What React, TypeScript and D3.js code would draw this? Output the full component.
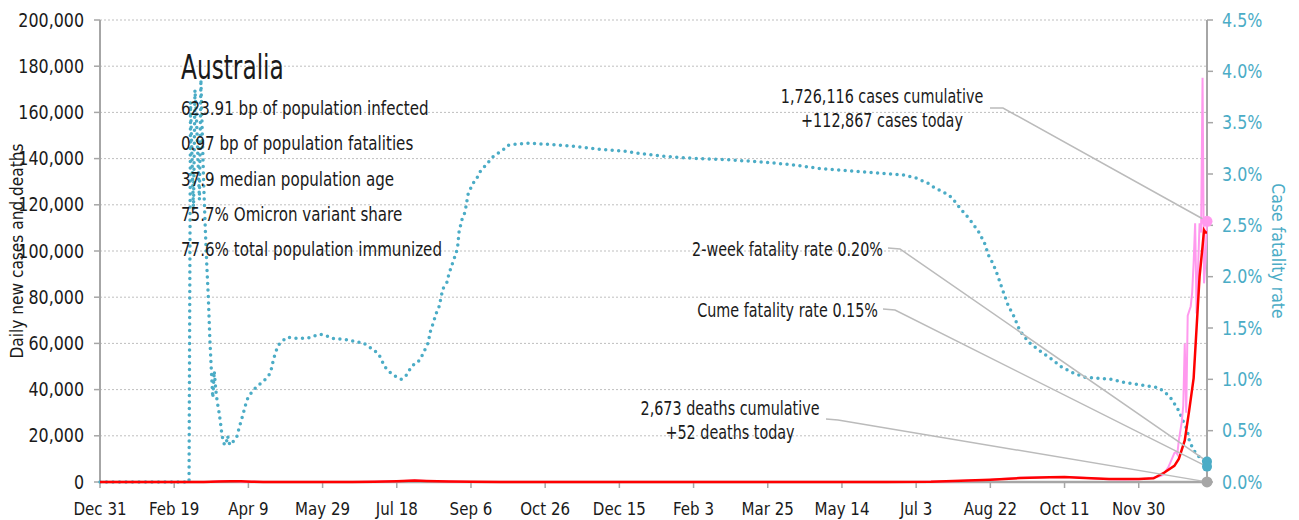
import * as React from 'react';
import * as d3 from 'd3';

// day offsets are counted from Dec 31 2019
const START = new Date(2019, 11, 31);
const LAST_DAY = 746;

// case fatality rate, %, right axis
const cfrDays = [0, 60, 61, 62, 63, 64, 65, 66, 67, 68, 69, 70, 71, 72, 73, 74, 75, 76, 77, 78, 79, 80, 81, 82, 83, 84, 85, 86, 87, 88, 90, 92, 94, 96, 99, 102, 105, 109, 113, 115, 117, 119, 121, 126, 133, 140, 144, 148, 152, 156, 164, 169, 173, 177, 181, 185, 188, 190, 192, 196, 199, 203, 206, 208, 211, 214, 217, 219, 221, 222, 223, 225, 226, 228, 229, 231, 234, 235, 238, 240, 241, 242, 244, 246, 248, 251, 254, 256, 259, 262, 265, 268, 272, 275, 280, 288, 301, 319, 337, 355, 364, 381, 403, 421, 444, 466, 487, 506, 524, 542, 550, 558, 562, 566, 570, 574, 580, 586, 592, 596, 599, 602, 605, 608, 610, 612, 616, 620, 626, 633, 641, 648, 656, 664, 673, 682, 690, 699, 708, 713, 717, 721, 726, 728, 730, 732, 733, 734, 736, 738, 741, 744, 746];
const cfrPct = [0, 0, 3.70, 3.15, 2.65, 3.82, 3.55, 3.15, 2.75, 3.92, 3.35, 2.85, 2.45, 2.10, 1.80, 1.40, 1.10, 0.82, 1.08, 0.90, 0.78, 0.70, 0.60, 0.48, 0.40, 0.36, 0.37, 0.45, 0.38, 0.36, 0.40, 0.43, 0.54, 0.64, 0.80, 0.87, 0.92, 0.97, 1.02, 1.07, 1.20, 1.29, 1.35, 1.41, 1.40, 1.40, 1.42, 1.44, 1.43, 1.40, 1.39, 1.38, 1.36, 1.36, 1.32, 1.28, 1.24, 1.18, 1.12, 1.06, 1.03, 1.00, 1.03, 1.08, 1.14, 1.16, 1.23, 1.29, 1.35, 1.42, 1.49, 1.56, 1.63, 1.68, 1.74, 1.88, 1.95, 2.02, 2.15, 2.23, 2.29, 2.44, 2.56, 2.63, 2.80, 2.90, 2.96, 3.02, 3.07, 3.12, 3.17, 3.20, 3.24, 3.28, 3.29, 3.30, 3.29, 3.27, 3.24, 3.22, 3.20, 3.17, 3.15, 3.14, 3.12, 3.09, 3.05, 3.03, 3.01, 2.99, 2.96, 2.91, 2.87, 2.84, 2.81, 2.77, 2.66, 2.56, 2.44, 2.33, 2.20, 2.12, 2.01, 1.88, 1.80, 1.72, 1.61, 1.47, 1.36, 1.28, 1.20, 1.12, 1.06, 1.02, 1.01, 1.00, 0.97, 0.95, 0.93, 0.92, 0.88, 0.83, 0.72, 0.66, 0.59, 0.53, 0.48, 0.41, 0.34, 0.29, 0.24, 0.20, 0.17];

// daily new cases (pink)
const dailyDays = [0, 55, 65, 75, 80, 85, 88, 92, 96, 100, 110, 130, 160, 175, 185, 195, 205, 212, 220, 230, 240, 250, 270, 300, 350, 400, 450, 530, 545, 560, 575, 590, 600, 610, 620, 630, 640, 650, 660, 670, 680, 690, 700, 702, 704, 706, 708, 710, 712, 714, 716, 717, 718, 719, 720, 721, 722, 723, 724, 725, 726, 727, 728, 729, 730, 731, 732, 733, 734, 735, 736, 737, 738, 739, 740, 741, 742, 743, 744, 745, 746];
const dailyCases = [0, 0, 10, 100, 300, 400, 460, 300, 150, 80, 30, 15, 15, 50, 150, 300, 450, 700, 450, 300, 120, 40, 15, 10, 12, 10, 15, 20, 50, 150, 300, 800, 1000, 1400, 1800, 2000, 2100, 2200, 1900, 1500, 1200, 1100, 1200, 1300, 1400, 1500, 1700, 1900, 2200, 2500, 3000, 3600, 4500, 5500, 6500, 8000, 9500, 11000, 12500, 13000, 12000, 18000, 22000, 26000, 33000, 60000, 30000, 72000, 74000, 76000, 82000, 95000, 112000, 73000, 93000, 112000, 108000, 175000, 86000, 96000, 112867];

// 7-day average of new cases (red)
const avgDays = [0, 60, 70, 80, 88, 95, 102, 110, 130, 170, 185, 200, 212, 220, 235, 250, 270, 360, 380, 530, 560, 580, 600, 620, 640, 650, 660, 680, 700, 710, 717, 724, 727, 731, 734, 737, 739, 741, 743, 744, 745, 746];
const avgCases = [0, 0, 30, 200, 370, 300, 120, 50, 15, 15, 120, 350, 600, 480, 250, 60, 15, 15, 10, 15, 120, 500, 1000, 1700, 2100, 2150, 1850, 1300, 1300, 1600, 4000, 7000, 10000, 18000, 31000, 45000, 67000, 89000, 102000, 109000, 108000, 108000];

const leftTicks = [0, 20000, 40000, 60000, 80000, 100000, 120000, 140000, 160000, 180000, 200000];
const rightTicks = [0, 0.5, 1.0, 1.5, 2.0, 2.5, 3.0, 3.5, 4.0, 4.5];
const xTickDays = [0, 50, 100, 150, 200, 250, 300, 350, 400, 450, 500, 550, 600, 650, 700];

const infoLines = [
  '623.91 bp of population infected',
  '0.97 bp of population fatalities',
  '37.9 median population age',
  '75.7% Omicron variant share',
  '77.6% total population immunized',
];

const casesCumulative = 1726116;
const casesToday = 112867;
const deathsCumulative = 2673;
const deathsToday = 52;
const cfr2Week = 0.20;
const cfrCume = 0.15;

const FONT = '"DejaVu Sans Condensed", "DejaVu Sans", sans-serif';
const BLUE = '#4BACC6';
const PINK = '#FF99EE';
const GREY = '#A6A6A6';
const INK = '#1a1a1a';

const W = 1299, H = 520;
const M = { left: 100, right: 1207, top: 20, bottom: 482 };

const day = (d: number) => d3.timeDay.offset(START, d);

// text squeezed horizontally to mimic the narrow face of the original
function T(props: { x: number; y: number; sx: number; size: number; anchor?: string; fill?: string; dy?: string; children: React.ReactNode }) {
  const { x, y, sx, size, anchor, fill, dy, children } = props;
  return (
    <text transform={`translate(${x},${y}) scale(${sx},1)`} textAnchor={anchor || 'start'}
      fontSize={size} fill={fill || INK} dy={dy}>{children}</text>
  );
}

export default function App() {
  const x = d3.scaleTime().domain([day(0), day(LAST_DAY)]).range([M.left, M.right]);
  const yL = d3.scaleLinear().domain([0, 200000]).range([M.bottom, M.top]);
  const yR = d3.scaleLinear().domain([0, 4.5]).range([M.bottom, M.top]);

  const fmtComma = d3.format(',');
  const fmtDate = d3.timeFormat('%b %-d');

  const cfrLine = d3.line<number>().x((d) => x(day(d))).y((_d, i) => yR(cfrPct[i]));
  const dailyLine = d3.line<number>().x((d) => x(day(d))).y((_d, i) => yL(dailyCases[i]));
  const avgLine = d3.line<number>().x((d) => x(day(d))).y((_d, i) => yL(avgCases[i]));

  const endX = x(day(LAST_DAY));
  const pinkY = yL(casesToday);
  const cfr2Y = yR(cfr2Week);
  const cfrCY = yR(cfrCume);
  const deathY = yL(deathsToday);
  const SQ = 0.84;

  return (
    <svg width={W} height={H} style={{ position: 'absolute', left: 0, top: 0 }} fontFamily={FONT}>
      {/* grid */}
      {leftTicks.slice(1).map((t) => (
        <line key={'g' + t} x1={M.left} x2={M.right} y1={yL(t)} y2={yL(t)}
          stroke="#BFBFBF" strokeWidth={1} strokeDasharray="2,2" />
      ))}

      {/* left axis */}
      <line x1={M.left} x2={M.left} y1={M.top} y2={M.bottom} stroke={GREY} strokeWidth={2} />
      {leftTicks.map((t) => (
        <g key={'l' + t}>
          <line x1={M.left - 6} x2={M.left} y1={yL(t)} y2={yL(t)} stroke={GREY} strokeWidth={1.5} />
          <T x={M.left - 16} y={yL(t)} sx={0.93} size={19} anchor="end" dy="0.35em">{fmtComma(t)}</T>
        </g>
      ))}
      <text transform={`translate(17,${(M.top + M.bottom) / 2}) rotate(-90) scale(0.95,1)`} textAnchor="middle"
        dy="0.35em" fontSize={18} fill={INK}>Daily new cases and deaths</text>

      {/* right axis */}
      <line x1={M.right} x2={M.right} y1={M.top} y2={M.bottom} stroke={GREY} strokeWidth={2} />
      {rightTicks.map((t) => (
        <g key={'r' + t}>
          <line x1={M.right} x2={M.right + 6} y1={yR(t)} y2={yR(t)} stroke={GREY} strokeWidth={1.5} />
          <T x={M.right + 15} y={yR(t)} sx={0.93} size={19} fill={BLUE} dy="0.35em">{t.toFixed(1) + '%'}</T>
        </g>
      ))}
      <text transform={`translate(1278,${(M.top + M.bottom) / 2}) rotate(90) scale(0.97,1)`} textAnchor="middle"
        dy="0.35em" fontSize={18} fill={BLUE}>Case fatality rate</text>

      {/* bottom axis */}
      <line x1={M.left} x2={M.right} y1={M.bottom} y2={M.bottom} stroke={GREY} strokeWidth={2.5} />
      {xTickDays.map((d) => (
        <g key={'x' + d}>
          <line x1={x(day(d))} x2={x(day(d))} y1={M.bottom} y2={M.bottom + 6} stroke={GREY} strokeWidth={1.5} />
          <T x={x(day(d))} y={M.bottom + 33} sx={0.93} size={18} anchor="middle">{fmtDate(day(d))}</T>
        </g>
      ))}

      {/* series */}
      <path d={cfrLine(cfrDays) || ''} fill="none" stroke={BLUE} strokeWidth={3.5}
        strokeLinecap="round" strokeDasharray="0,6.5" />
      <path d={dailyLine(dailyDays) || ''} fill="none" stroke={PINK} strokeWidth={2} />
      <path d={avgLine(avgDays) || ''} fill="none" stroke="#FF0000" strokeWidth={2.5} />

      {/* info block */}
      <T x={181} y={79} sx={0.76} size={34}>Australia</T>
      {infoLines.map((s, i) => (
        <T key={s} x={181} y={115 + i * 35.3} sx={SQ} size={20}>{s}</T>
      ))}

      {/* annotations */}
      <T x={882} y={103} sx={SQ} size={19} anchor="middle">{fmtComma(casesCumulative) + ' cases cumulative'}</T>
      <T x={882} y={127} sx={SQ} size={19} anchor="middle">{'+' + fmtComma(casesToday) + ' cases today'}</T>
      <polyline points={`990,108 1003,108 ${endX},${pinkY}`} fill="none" stroke="#BBBBBB" strokeWidth={1.5} />

      <T x={883} y={256} sx={SQ} size={19} anchor="end">{'2-week fatality rate ' + cfr2Week.toFixed(2) + '%'}</T>
      <polyline points={`888,248 900,249 ${endX},${cfr2Y}`} fill="none" stroke="#BBBBBB" strokeWidth={1.5} />

      <T x={878} y={317} sx={SQ} size={19} anchor="end">{'Cume fatality rate ' + cfrCume.toFixed(2) + '%'}</T>
      <polyline points={`883,309 895,310 ${endX},${cfrCY}`} fill="none" stroke="#BBBBBB" strokeWidth={1.5} />

      <T x={730} y={415} sx={SQ} size={19} anchor="middle">{fmtComma(deathsCumulative) + ' deaths cumulative'}</T>
      <T x={730} y={439} sx={SQ} size={19} anchor="middle">{'+' + deathsToday + ' deaths today'}</T>
      <polyline points={`826,419 838,420 ${endX},${deathY}`} fill="none" stroke="#BBBBBB" strokeWidth={1.5} />

      {/* end markers */}
      <circle cx={endX} cy={pinkY} r={5.5} fill={PINK} />
      <circle cx={endX} cy={cfr2Y} r={5} fill={BLUE} />
      <circle cx={endX} cy={cfrCY} r={5} fill={BLUE} />
      <circle cx={endX} cy={deathY} r={5.5} fill={GREY} />
    </svg>
  );
}
